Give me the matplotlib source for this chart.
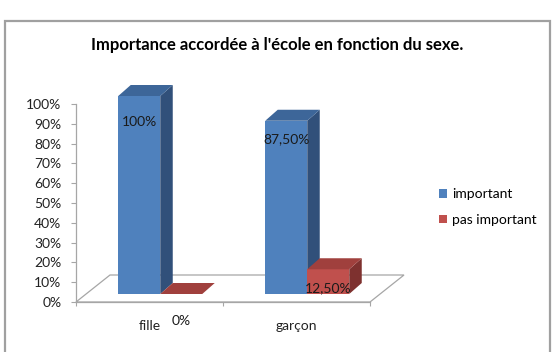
import matplotlib
matplotlib.use("Agg")
import matplotlib.pyplot as plt
from matplotlib.patches import Polygon, Rectangle, Patch

# ---- data ----
categories = ["fille", "garçon"]
series_names = ["important", "pas important"]
important = [100.0, 87.5]
pas_important = [0.0, 12.5]
value_labels_important = ["100%", "87,50%"]
value_labels_pas = ["0%", "12,50%"]
yticks = [0, 10, 20, 30, 40, 50, 60, 70, 80, 90, 100]
ytick_labels = ["0%", "10%", "20%", "30%", "40%", "50%", "60%", "70%", "80%", "90%", "100%"]
title = "Importance accordée à l'école en fonction du sexe."

# ---- style ----
FONT = ["Lato", "DejaVu Sans"]
plt.rcParams['font.family'] = FONT
front_cols = ["#4F81BD", "#C0504D"]
top_cols = ["#3D6699", "#A0403D"]
side_cols = ["#31507A", "#7E312F"]
grey = "#A6A6A6"

W, H = 554, 352
fig = plt.figure(figsize=(W / 100, H / 100), dpi=100)
fig.patch.set_facecolor("white")

# outer chart frame
fig.patches.append(Rectangle((5 / W, -0.05), (550 - 5) / W, (H - 21) / H + 0.05,
                             transform=fig.transFigure, fill=False,
                             edgecolor="#A0A0A0", lw=1.6))

ax = fig.add_axes([76 / W, (H - 302) / H, 294 / W, (302 - 104) / H])
ax.set_xlim(-0.5, 1.5)
ax.set_ylim(0, 100)
ax.set_facecolor("none")

# pseudo-3D geometry in data units
px_x = 2.0 / 294          # data units per pixel (x)
px_y = 100.0 / 198        # data units per pixel (y)
floor_dx, floor_dy = 34 * px_x, 27 * px_y
bar_dx, bar_dy = 12.5 * px_x, 11 * px_y
off_dx, off_dy = (floor_dx - bar_dx) / 2, (floor_dy - bar_dy) / 2
bw = 42 * px_x

# floor
floor = Polygon([(-0.5, 0), (1.5, 0), (1.5 + floor_dx, floor_dy), (-0.5 + floor_dx, floor_dy)],
                closed=True, facecolor="white", edgecolor=grey, lw=0.9, zorder=1, clip_on=False)
ax.add_patch(floor)

series = [important, pas_important]
labels = [value_labels_important, value_labels_pas]
for ci in range(len(categories)):
    for si, vals in enumerate(series):
        v = vals[ci]
        x0 = ci - bw + si * bw + off_dx
        y0 = off_dy
        y1 = y0 + v
        z = 3 + ci * 2 + si
        ax.bar(x0, v, width=bw, bottom=y0, align="edge", color=front_cols[si],
               edgecolor="none", zorder=z, clip_on=False)
        side = Polygon([(x0 + bw, y0), (x0 + bw + bar_dx, y0 + bar_dy),
                        (x0 + bw + bar_dx, y1 + bar_dy), (x0 + bw, y1)],
                       closed=True, facecolor=side_cols[si], edgecolor="none",
                       zorder=z, clip_on=False)
        top = Polygon([(x0, y1), (x0 + bar_dx, y1 + bar_dy),
                       (x0 + bw + bar_dx, y1 + bar_dy), (x0 + bw, y1)],
                      closed=True, facecolor=top_cols[si], edgecolor="none",
                      zorder=z, clip_on=False)
        ax.add_patch(side)
        ax.add_patch(top)
        ly = min(y1, 100) - 9.3
        if v == 0:
            ly = y1 - 13.5
        ax.text(x0 + bw / 2, ly, labels[si][ci], ha="center", va="center",
                fontsize=10, color="#1a1a1a", zorder=20, clip_on=False)

# axes styling
for s in ["top", "right"]:
    ax.spines[s].set_visible(False)
ax.spines["left"].set_color(grey)
ax.spines["bottom"].set_color(grey)
ax.spines["left"].set_linewidth(0.9)
ax.spines["bottom"].set_linewidth(0.9)
ax.set_yticks(yticks)
ax.set_yticklabels(ytick_labels)
ax.tick_params(axis="y", length=3.5, color=grey, labelsize=10, labelcolor="#222222", pad=7)
ax.set_xticks([-0.5, 0.5, 1.5])
ax.set_xticklabels([])
ax.tick_params(axis="x", length=3, color=grey)
for ci, c in enumerate(categories):
    ax.text(ci, -12.2, c, ha="center", va="center", fontsize=10, color="#222222")

fig.text(277 / W, 1 - 45 / H, title, ha="center", va="center",
         fontsize=12, fontweight="bold", color="black")

handles = [Patch(facecolor=front_cols[i], edgecolor="none") for i in range(2)]
fig.legend(handles, series_names, loc="center left",
           bbox_to_anchor=(426 / W, 1 - 207 / H), frameon=False, fontsize=10,
           handlelength=0.6, handleheight=0.6, handletextpad=0.4, labelspacing=1.0)

fig.savefig("out.png", dpi=100, facecolor="white")
